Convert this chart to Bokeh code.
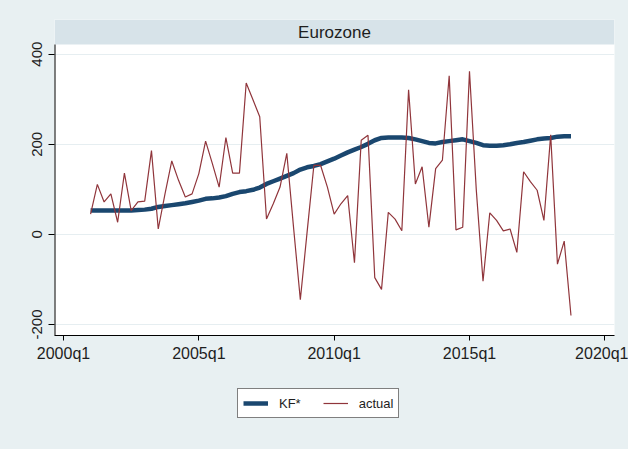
from bokeh.plotting import figure
from bokeh.layouts import column
from bokeh.models import Range1d, FixedTicker, BoxAnnotation, Legend, LegendItem, Label
from bokeh.embed import file_html
from bokeh.resources import INLINE

# ---- data -------------------------------------------------------------
panel_title = "Eurozone"
quarters = [f"{y}q{q}" for y in range(2001, 2019) for q in range(1, 5)]  # 2001q1 .. 2018q4
actual = [45, 111, 72, 90, 27, 136, 53, 72,
          74, 186, 12, 90, 163, 120, 83, 90,
          135, 207, 157, 105, 215, 136, 136, 336,
          299, 261, 34, 68, 105, 180, 15, -145,
          5, 153, 153, 105, 45, 68, 86, -63,
          209, 220, -96, -122, 49, 34, 8, 321,
          112, 150, 16, 146, 165, 352, 10, 16,
          362, 100, -104, 48, 31, 8, 12, -40,
          139, 117, 98, 31, 221, -66, -15, -180]
kf_star = [53, 53, 53, 53, 53, 53, 53, 54,
           55, 57, 61, 63, 65, 67, 69, 72,
           75, 79, 80, 82, 85, 90, 94, 96,
           99, 104, 112, 118, 124, 130, 136, 144,
           149, 152, 156, 162, 168, 175, 182, 188,
           194, 201, 209, 214, 215, 215, 215, 214,
           211, 207, 203, 202, 205, 207, 209, 211,
           207, 203, 198, 197, 197, 198, 200, 203,
           205, 208, 211, 213, 214, 217, 218, 218]
x_tick_years = [2000, 2005, 2010, 2015, 2020]
x_tick_labels = ["2000q1", "2005q1", "2010q1", "2015q1", "2020q1"]
y_ticks = [-200, 0, 200, 400]
y_tick_labels = ["-200", "0", "200", "400"]
series_names = ["KF*", "actual"]

# quarter strings -> decimal years
xq = [int(s[:4]) + (int(s[5]) - 1) / 4 for s in quarters]

# ---- styling ----------------------------------------------------------
BG = "#E8F0F2"
BAND = "#D7E3E9"
GRID = "#E6EEF1"
NAVY = "#1A476F"
MAROON = "#90353B"
FONT = "Liberation Sans"
W = 628

x_start, x_end = 1999.667, 2020.358
y_start, y_end = -224.4, 477.0
band_bottom = 421.5

p = figure(width=W, height=372, title=None,
           x_range=Range1d(x_start, x_end), y_range=Range1d(y_start, y_end),
           min_border_left=54, min_border_right=14, min_border_top=19, min_border_bottom=37,
           output_backend="svg", toolbar_location=None)
p.background_fill_color = "white"
p.border_fill_color = BG
p.outline_line_color = None

# axes
p.xaxis.ticker = FixedTicker(ticks=x_tick_years)
p.xaxis.major_label_overrides = {y: l for y, l in zip(x_tick_years, x_tick_labels)}
p.yaxis.ticker = FixedTicker(ticks=y_ticks)
p.yaxis.major_label_overrides = {y: l for y, l in zip(y_ticks, y_tick_labels)}
for ax in (p.xaxis, p.yaxis):
    ax.minor_tick_line_color = None
    ax.major_tick_in = 0
    ax.major_tick_line_color = "black"
    ax.axis_line_color = "black"
    ax.major_label_text_font = FONT
    ax.major_label_text_color = "#1e1e1e"
p.xaxis.major_tick_out = 5
p.xaxis.major_label_text_font_size = "16px"
p.xaxis.major_label_standoff = 4
p.yaxis.major_tick_out = 6
p.yaxis.major_label_text_font_size = "15px"
p.yaxis.major_label_orientation = "vertical"
p.yaxis.major_label_standoff = 6
p.yaxis.axis_line_color = None

p.xgrid.grid_line_color = None
p.ygrid.grid_line_color = GRID
p.ygrid.grid_line_width = 1

# title band (Stata by() strip)
p.add_layout(BoxAnnotation(bottom=band_bottom, fill_color=BAND, fill_alpha=1.0,
                           line_color=None, level="underlay"))
p.add_layout(Label(x=(x_start + x_end) / 2, y=(band_bottom + y_end) / 2, text=panel_title,
                   text_font=FONT, text_font_size="17px", text_color="#1e1e1e",
                   text_align="center", text_baseline="middle"))

# y axis line (stops at the strip)
p.segment(x0=[x_start], y0=[y_start], x1=[x_start], y1=[band_bottom],
          line_color="black", line_width=2)

# series
p.line(xq, kf_star, line_color=NAVY, line_width=4.5)
p.line(xq, actual, line_color=MAROON, line_width=1.2)

# ---- legend strip (separate figure so the legend is not clipped) ----------
# same series drawn again, outside this strip's visible range, only to feed the legend
q = figure(width=W, height=77, title=None, x_range=Range1d(0, 1), y_range=Range1d(0, 1),
           x_axis_type=None, y_axis_type=None, min_border=0,
           output_backend="svg", toolbar_location=None)
q.background_fill_color = BG
q.border_fill_color = BG
q.outline_line_color = None
q.xgrid.grid_line_color = None
q.ygrid.grid_line_color = None
lk = q.line(xq, kf_star, line_color=NAVY, line_width=4.5)
la = q.line(xq, actual, line_color=MAROON, line_width=1.2)

legend = Legend(items=[LegendItem(label=series_names[0], renderers=[lk]),
                       LegendItem(label=series_names[1], renderers=[la])],
                orientation="horizontal", location=(183, 31),
                border_line_color="black", border_line_width=1,
                background_fill_color="white", background_fill_alpha=1.0,
                label_text_font=FONT, label_text_font_size="13px", label_text_color="#1e1e1e",
                glyph_width=25, glyph_height=18, label_height=18,
                label_standoff=11, spacing=22, padding=5, margin=0)
q.add_layout(legend)

layout = column(p, q, spacing=0)
layout.styles = {"background-color": BG}
open("out.html", "w").write(file_html(layout, INLINE))
